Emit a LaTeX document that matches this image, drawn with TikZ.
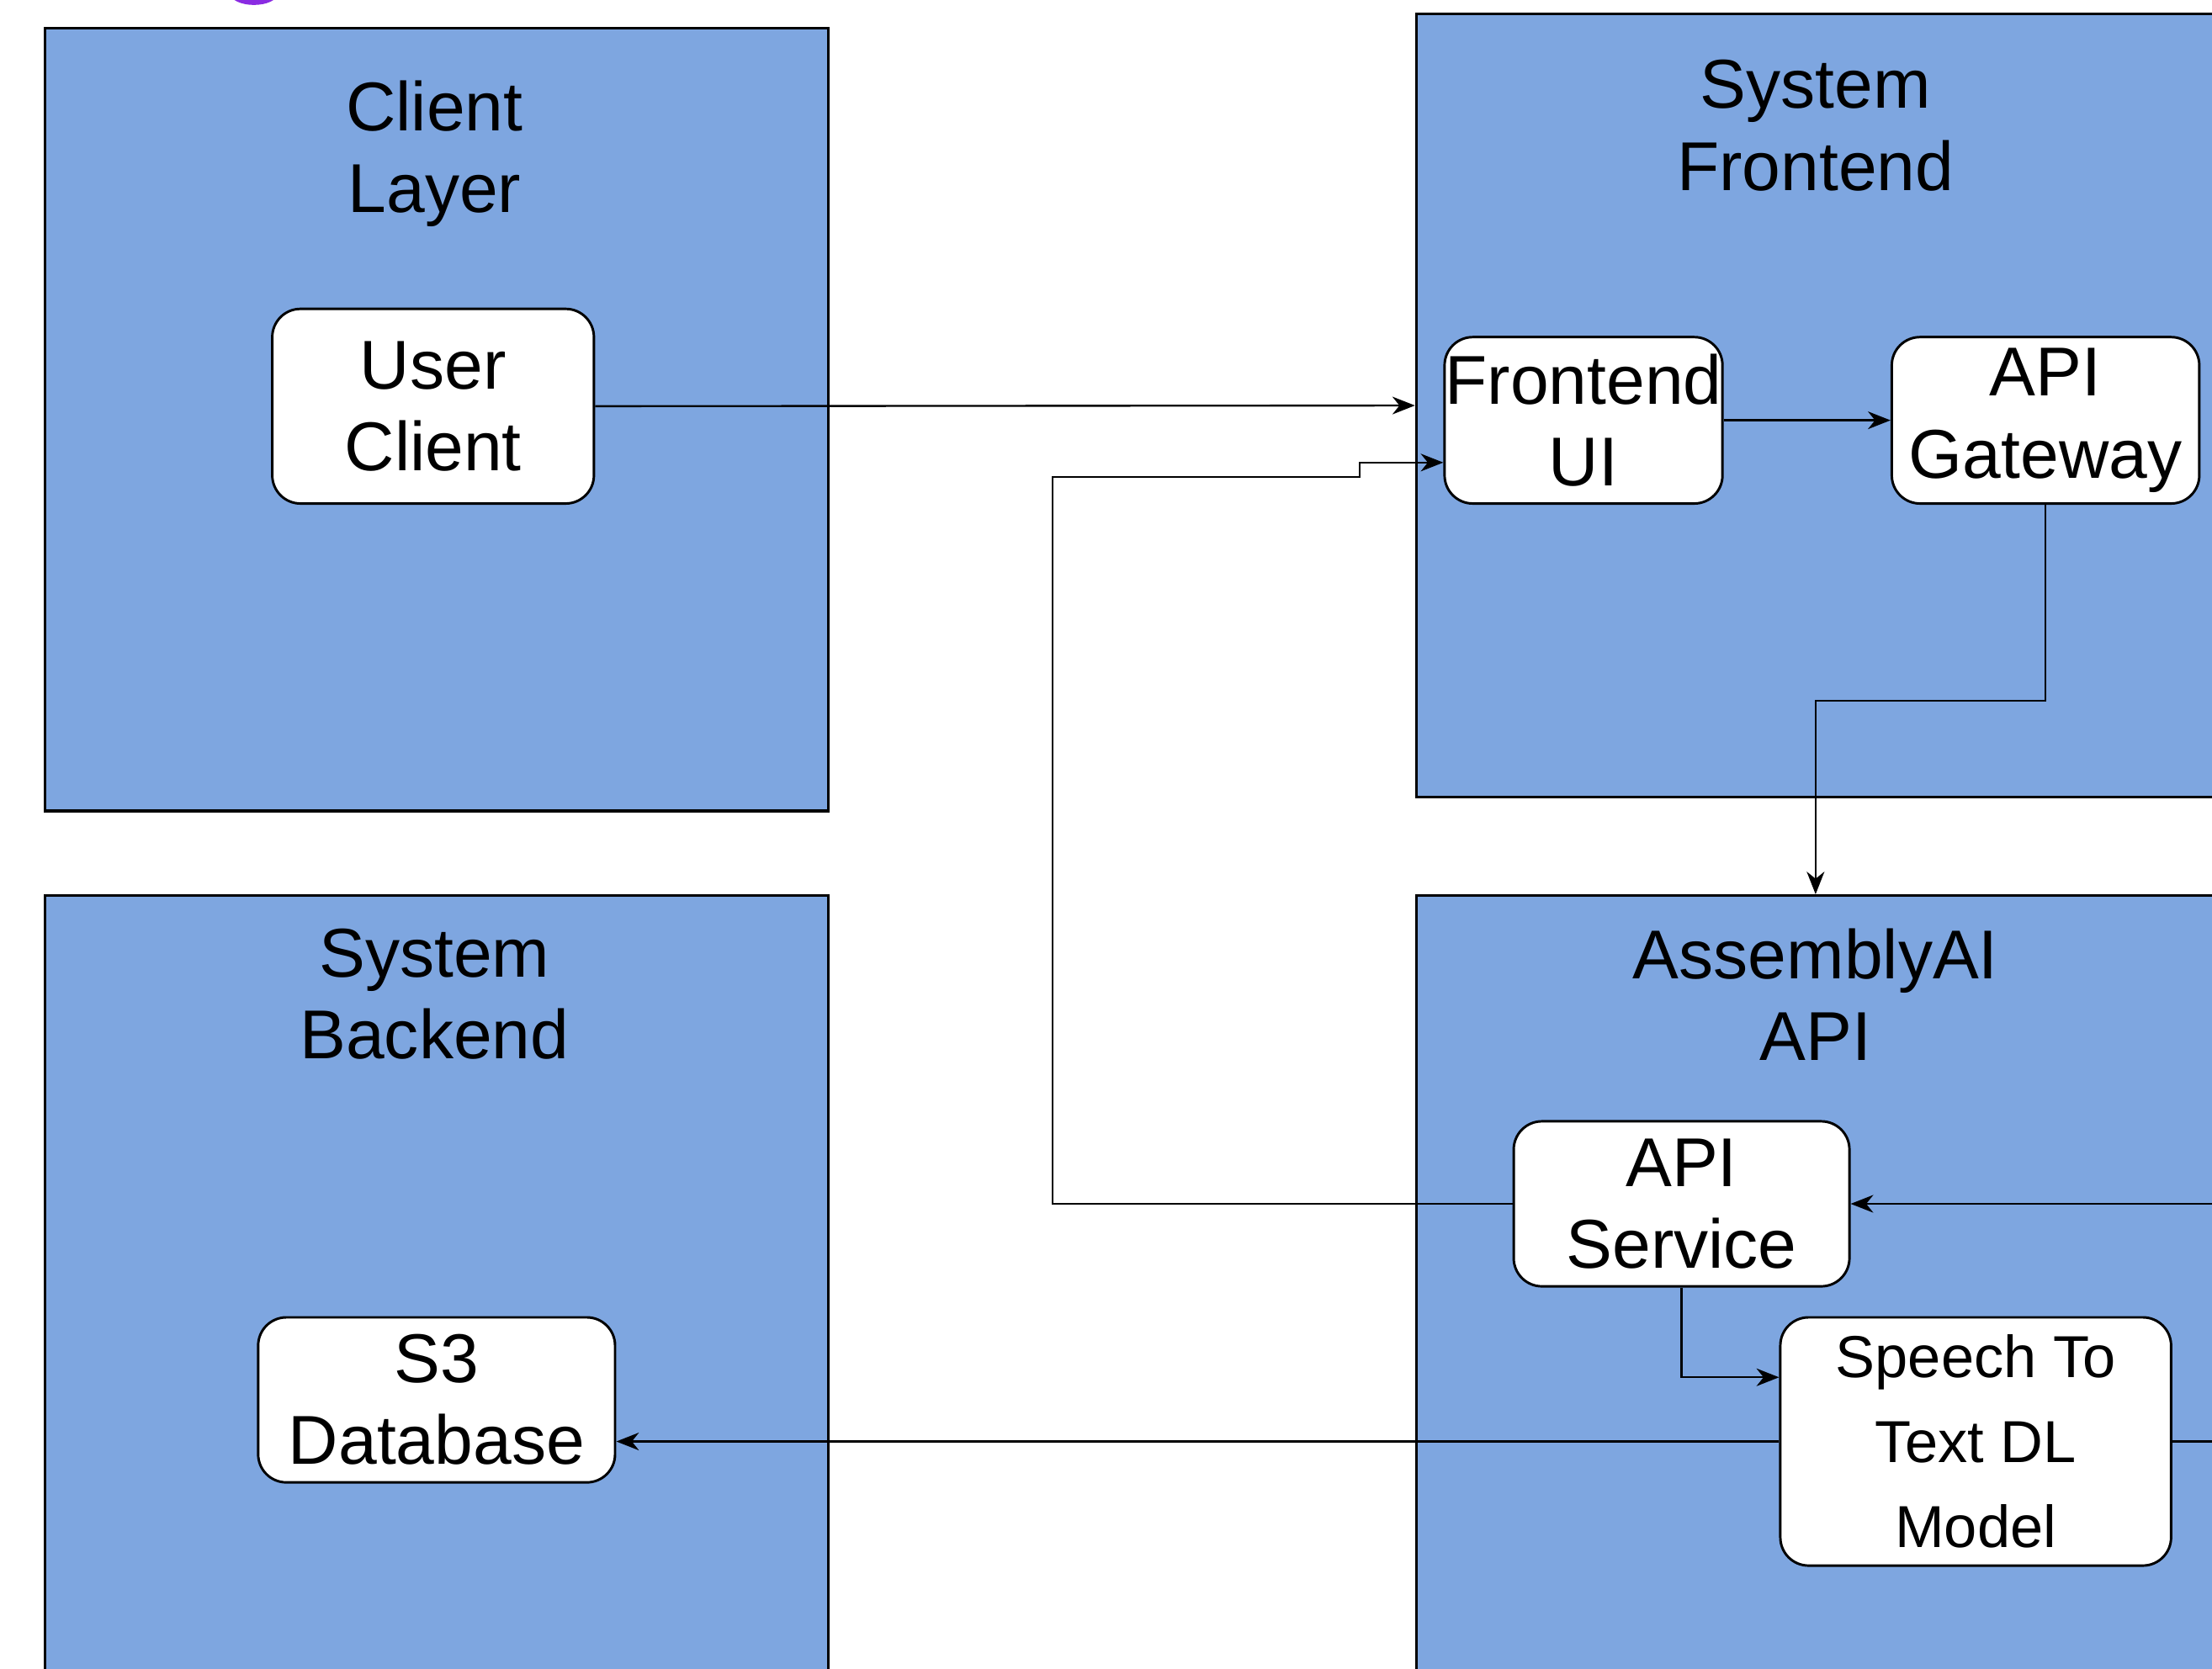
\documentclass[tikz,border=0pt]{standalone}
\usepackage{fontspec}
\setmainfont{Liberation Sans}
\usetikzlibrary{arrows.meta,calc}
\definecolor{grpblue}{HTML}{7EA6E0}
\definecolor{purp}{HTML}{8A2BE2}
\begin{document}
\begin{tikzpicture}[x=0.1mm,y=-0.1mm,
  grp/.style={draw=black,line width=0.55pt,fill=grpblue,rectangle,inner sep=0pt},
  inbox/.style={draw=black,line width=0.5pt,fill=white,rounded corners=2mm,inner sep=0pt,align=center,font=\fontsize{13.95pt}{16.5pt}\selectfont},
  ttl/.style={align=center,inner sep=0pt,font=\fontsize{13.95pt}{16.5pt}\selectfont},
  arr/.style={draw=black,line width=0.4pt,-{Stealth[length=1.6mm,width=1.25mm,inset=0.5mm]}},
  ln/.style={draw=black,line width=0.4pt}]
\useasboundingbox (0,0) rectangle (1568,1183);
\fill[white] (0,0) rectangle (1568,1183);
\begin{scope}
\clip (0,0) rectangle (1568,1183);
% purple fragment at top
\draw[purp,line width=0.5mm] (180,-6) ellipse [x radius=15, y radius=7];
% groups
\node[grp,minimum width=55.5mm,minimum height=55.5mm] (cl) at (309.5,297.5) {};
\node[grp,minimum width=56.6mm,minimum height=55.5mm] (sf) at (1287,287.5) {};
\node[grp,minimum width=55.5mm,minimum height=55.5mm] (sb) at (309.5,912.5) {};
\node[grp,minimum width=56.6mm,minimum height=55.5mm] (aai) at (1287,912.5) {};
% titles
\node[ttl] (clt) at (308,109) {Client\\Layer};
\node[ttl] (sft) at (1287,89) {System\\Frontend};
\node[ttl] (sbt) at (308,705) {System\\Backend};
\node[ttl] (aait) at (1287,705) {AssemblyAI\\API};
% inner nodes
\node[inbox,minimum width=22.8mm,minimum height=13.8mm] (uc) at (307,288) {User\\Client};
\node[inbox,minimum width=19.7mm,minimum height=11.8mm] (fui) at (1122.5,298) {Frontend\\UI};
\node[inbox,minimum width=21.8mm,minimum height=11.8mm] (gw) at (1450,298) {API\\Gateway};
\node[inbox,minimum width=25.3mm,minimum height=11.7mm] (s3) at (309.5,992.5) {S3\\Database};
\node[inbox,minimum width=23.8mm,minimum height=11.7mm] (svc) at (1192,853.5) {API\\Service};
\node[inbox,minimum width=27.7mm,minimum height=17.6mm,font=\fontsize{11.95pt}{17.1pt}\selectfont] (stt) at (1400.5,1022) {Speech To\\Text DL\\Model};
% helper coordinates
\coordinate (fuiin) at ($(fui.south west)!0.25!(fui.north west)$);
\coordinate (b1) at (746,338);
\coordinate (b2) at (964,338);
\coordinate (sttin) at ($(stt.north west)!0.244!(stt.south west)$);
\coordinate (rin) at (1600,853.5);
\coordinate (rout) at (1600,1022);
% connectors
\draw[arr] (uc.east) -- (sf.west);
\draw[arr] (fui.east) -- (gw.west);
\draw[arr] (gw.south) -- ++(0,139) -| (aai.north);
\draw[arr] (svc.west) -| (b1) -- (b2) |- (fuiin);
\draw[arr] (rin) -- (svc.east);
\draw[arr] (svc.south) |- (sttin);
\draw[arr] (stt.west) -- (s3.east |- stt.west);
\draw[ln] (stt.east) -- (rout);
\end{scope}
\end{tikzpicture}
\end{document}
